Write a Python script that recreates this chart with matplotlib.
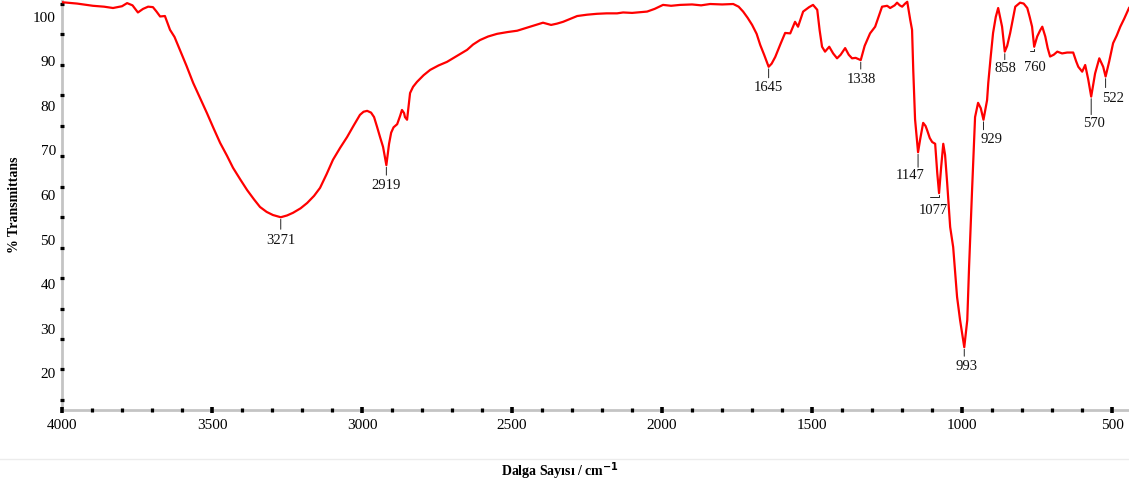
import numpy as np
import matplotlib
matplotlib.use("Agg")
import matplotlib.pyplot as plt
from matplotlib.lines import Line2D

plt.rcParams['font.family'] = ['Liberation Serif', 'DejaVu Serif']

# FTIR spektrumu: dalga sayısı (cm-1) ve % geçirgenlik
wavenumber = [4000, 3950, 3897, 3860, 3830, 3800, 3783, 3765, 3747, 3730, 3713, 3697, 3685, 3673, 3657,
              3640, 3625, 3607, 3585, 3563, 3540, 3517, 3495, 3473, 3450, 3430, 3405, 3383, 3360, 3340,
              3318, 3297, 3271, 3250, 3230, 3205, 3183, 3160, 3140, 3118, 3097, 3073, 3050, 3028, 3007,
              2995, 2983, 2970, 2960, 2950, 2940, 2930, 2919, 2910, 2903, 2895, 2883, 2873, 2867, 2860,
              2857, 2850, 2845, 2840, 2830, 2817, 2795, 2773, 2745, 2717, 2685, 2650, 2630, 2607, 2580,
              2550, 2515, 2483, 2440, 2397, 2370, 2350, 2330, 2305, 2283, 2250, 2217, 2185, 2150, 2130,
              2100, 2050, 2025, 1997, 1970, 1940, 1900, 1870, 1840, 1800, 1763, 1745, 1730, 1715, 1700,
              1685, 1673, 1660, 1645, 1635, 1623, 1605, 1590, 1573, 1557, 1547, 1530, 1510, 1497, 1483,
              1475, 1467, 1457, 1443, 1430, 1417, 1405, 1390, 1378, 1367, 1355, 1338, 1325, 1307, 1290,
              1267, 1250, 1240, 1225, 1217, 1208, 1200, 1190, 1183, 1173, 1167, 1163, 1157, 1147, 1140,
              1130, 1122, 1117, 1108, 1100, 1090, 1083, 1077, 1070, 1063, 1057, 1050, 1040, 1030, 1017,
              1007, 993, 983, 977, 967, 957, 947, 938, 929, 917, 913, 905, 897, 888, 880,
              867, 858, 850, 840, 823, 807, 795, 783, 775, 767, 760, 750, 740, 733, 723,
              715, 707, 695, 683, 667, 650, 630, 620, 613, 600, 590, 580, 570, 557, 543,
              530, 522, 510, 497, 485, 473, 460, 447, 444]
transmittance = [103.3, 103.0, 102.5, 102.3, 102.0, 102.4, 103.1, 102.6, 101.0, 101.8, 102.3, 102.2, 101.2, 100.1, 100.2,
                 97.1, 95.5, 92.6, 89.0, 85.2, 81.8, 78.4, 75.0, 71.7, 68.8, 66.1, 63.4, 61.1, 59.0, 57.3,
                 56.2, 55.5, 55.0, 55.4, 56.0, 57.0, 58.2, 59.8, 61.6, 64.7, 67.9, 70.6, 73.0, 75.6, 78.0,
                 78.7, 78.9, 78.5, 77.5, 75.3, 73.0, 70.8, 66.7, 71.5, 74.0, 75.2, 75.9, 77.8, 79.1, 78.4,
                 77.5, 76.9, 80.0, 82.9, 84.3, 85.4, 86.9, 88.1, 89.1, 89.9, 91.2, 92.6, 93.8, 94.8, 95.6,
                 96.2, 96.6, 96.9, 97.8, 98.7, 98.2, 98.5, 98.9, 99.6, 100.2, 100.5, 100.7, 100.8, 100.8, 101.0,
                 100.9, 101.2, 101.8, 102.7, 102.5, 102.7, 102.8, 102.6, 102.9, 102.8, 102.9, 102.3, 101.2, 99.8, 98.2,
                 96.2, 93.7, 91.5, 88.8, 89.5, 91.0, 94.0, 96.4, 96.3, 98.9, 97.8, 101.2, 102.2, 102.7, 101.6,
                 97.0, 93.3, 92.2, 93.3, 91.8, 90.7, 91.5, 93.0, 91.5, 90.7, 90.8, 90.3, 93.5, 96.3, 97.8,
                 102.3, 102.5, 102.0, 102.6, 103.2, 102.6, 102.3, 103.0, 103.4, 99.3, 97.1, 88.0, 77.0, 69.6, 72.5,
                 76.2, 75.5, 74.6, 72.8, 71.9, 71.5, 64.9, 60.4, 66.3, 71.5, 69.0, 62.7, 52.8, 48.3, 37.1,
                 31.9, 25.8, 31.9, 43.8, 61.1, 77.5, 80.7, 79.5, 76.9, 81.3, 85.2, 91.0, 96.4, 100.0, 102.0,
                 97.8, 92.2, 93.5, 96.4, 102.3, 103.2, 103.0, 102.0, 100.0, 97.8, 93.3, 95.6, 97.0, 97.8, 95.6,
                 93.0, 91.1, 91.5, 92.2, 91.8, 92.0, 92.0, 90.0, 88.8, 87.7, 89.2, 86.0, 82.1, 87.3, 90.7,
                 88.8, 86.6, 90.0, 94.1, 95.8, 97.8, 99.6, 101.6, 102.0]

# işaretlenen pikler, etiket kaymaları ve işaret çizgisi uçları (piksel)
peaks = [3271, 2919, 1645, 1338, 1147, 1077, 993, 929, 858, 760, 570, 522]
label_dx = [0, 0, 0, 1, -8, -6, 2, 8, 1, 1, 3, 7]
label_dy = [-23, -20, -21, -19, -23, -17, -19, -20, -17, -21, -27, -22]
tick_dx = [0, 0, 0, 0, 0, -9, 0, 0, 0, -4, 0, 0]
tick_dy = [-12, -10, -11, -9, -15, -4, -9, -10, -8, -4, -18, -11]

y_labels = [20, 30, 40, 50, 60, 70, 80, 90, 100]

fig = plt.figure(figsize=(11.29, 4.86), dpi=100)
ax = fig.add_axes([62 / 1129, 1 - 410 / 486, 1 - 62 / 1129, 410 / 486])

ax.plot(wavenumber, transmittance, color='#ff0000', lw=1.6)

ax.set_xlim(4000, 444)
ax.set_ylim(11.7, 103.8)

for wn, dx, dy, tx, ty in zip(peaks, label_dx, label_dy, tick_dx, tick_dy):
    t = np.interp(wn, wavenumber[::-1], transmittance[::-1])
    ax.annotate(str(wn), xy=(wn, t), xytext=(dx, dy), textcoords='offset pixels',
                ha='center', va='center', fontsize=10.5, color='#111111')
    conn = 'angle,angleA=0,angleB=90,rad=0' if tx != 0 else 'arc3'
    ax.annotate('', xy=(wn, t), xytext=(tx, ty), textcoords='offset pixels',
                arrowprops=dict(arrowstyle='-', color='#222222', lw=0.7,
                                shrinkA=0, shrinkB=1.5, connectionstyle=conn))

# eksen görünümü: gri eksen çizgisi, üzerinde siyah kare işaretler
for side in ['top', 'right']:
    ax.spines[side].set_visible(False)
for side in ['left', 'bottom']:
    ax.spines[side].set_color('#c4c4c4')
    ax.spines[side].set_linewidth(2)
    ax.spines[side].set_zorder(1)

ax.set_xticks(np.arange(4000, 443, -500))
ax.set_xticklabels([str(v) for v in np.arange(4000, 443, -500)])
ax.set_xticks(np.arange(3900, 443, -100), minor=True)
ax.tick_params(axis='x', which='major', direction='inout', length=4.5, width=2.6,
               color='black', labelsize=11, pad=4)
ax.tick_params(axis='x', which='minor', direction='inout', length=2.4, width=2.3, color='black')

ax.set_yticks(y_labels)
ax.set_yticklabels([str(v) for v in y_labels])
ax.set_yticks(np.arange(102.9, 13, -6.84), minor=True)
ax.tick_params(axis='y', which='major', length=0, labelsize=11, pad=4.5)
ax.tick_params(axis='y', which='minor', direction='inout', length=2.4, width=2.3, color='black')

fig.text(15 / 1129, 1 - 205 / 486, '% Transmittans', rotation=90, ha='center', va='center',
         fontsize=10, fontweight='bold')
fig.text(560 / 1129, 1 - 471 / 486, 'Dalga Sayısı / cm$^{\\mathbf{-1}}$', ha='center', va='center',
         fontsize=10, fontweight='bold')

fig.add_artist(Line2D([0, 1], [1 - 459 / 486] * 2, transform=fig.transFigure,
                      color='#ececec', lw=1))

fig.savefig('out.png', dpi=100)
